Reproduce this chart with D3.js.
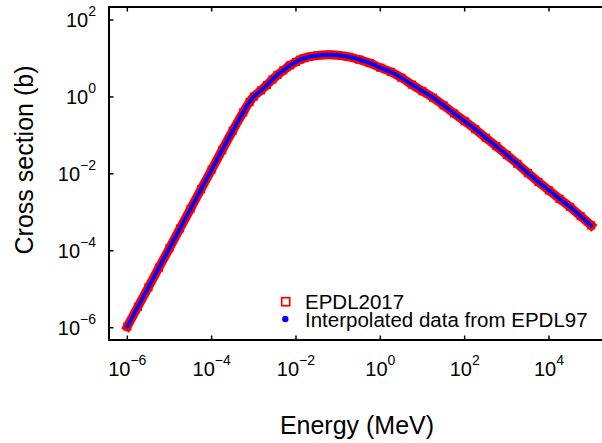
<!DOCTYPE html>
<html>
<head>
<meta charset="utf-8">
<script src="https://cdn.jsdelivr.net/npm/d3@7"></script>
<style>
  html, body { margin: 0; padding: 0; background: #fff; }
  svg { display: block; }
  text { font-family: "Liberation Sans", Arial, Helvetica, sans-serif; fill: #000; }
</style>
</head>
<body>
<svg id="chart" width="602" height="443"></svg>
<script>
// ---- data ----
const energy2017 = [1e-6, 1.78e-6, 3.16e-6, 5.62e-6, 1e-5, 1.78e-5, 3.16e-5, 5.62e-5, 1e-4, 1.78e-4,
  3.16e-4, 5.62e-4, 7.94e-4, 1e-3, 1.48e-3, 2.04e-3, 2.75e-3, 3.63e-3, 5.01e-3, 7.24e-3,
  1e-2, 1.26e-2, 1.58e-2, 2e-2, 2.51e-2, 3.16e-2, 3.8e-2, 4.57e-2, 5.5e-2, 6.6e-2,
  7.94e-2, 9.55e-2, 0.126, 0.178, 0.316, 0.562, 1, 1.78, 3.16, 5.62,
  10, 17.8, 31.6, 56.2, 100, 178, 316, 562, 1000, 1780,
  3160, 5620, 1e4, 1.78e4, 3.16e4, 5.62e4, 1e5];
const sigma2017 = [1.07e-6, 3.47e-6, 1.12e-5, 3.63e-5, 1.17e-4, 3.80e-4, 1.23e-3, 3.98e-3, 1.29e-2, 4.17e-2,
  0.132, 0.398, 0.741, 1.02, 1.48, 2.04, 2.82, 3.72, 4.90, 6.61,
  8.13, 9.33, 10.2, 11.0, 11.5, 11.9, 12.2, 12.3, 12.4, 12.4,
  12.3, 12.2, 11.7, 11.0, 9.33, 7.59, 5.75, 4.47, 3.16, 2.09,
  1.41, 0.955, 0.603, 0.372, 0.234, 0.145, 0.0871, 0.0525, 0.0309, 0.0182,
  0.0105, 6.17e-3, 3.72e-3, 2.24e-3, 1.38e-3, 7.94e-4, 4.57e-4];
const energy97 = energy2017.slice();
const sigma97 = [1.07e-6, 3.47e-6, 1.12e-5, 3.63e-5, 1.17e-4, 3.80e-4, 1.23e-3, 3.98e-3, 1.29e-2, 4.17e-2,
  0.132, 0.398, 0.741, 1.02, 1.48, 2.04, 2.82, 3.72, 4.90, 6.61,
  8.13, 9.33, 10.2, 11.0, 11.5, 11.9, 12.2, 12.3, 12.4, 12.4,
  12.3, 12.2, 11.7, 11.0, 9.33, 7.59, 5.75, 4.47, 3.16, 2.09,
  1.41, 0.955, 0.603, 0.372, 0.234, 0.145, 0.0871, 0.0525, 0.0309, 0.0182,
  0.0105, 6.17e-3, 3.72e-3, 2.24e-3, 1.38e-3, 7.94e-4, 4.57e-4];
const xTicks = [1e-6, 1e-4, 1e-2, 1, 1e2, 1e4];
const xTickExp = ["\u22126", "\u22124", "\u22122", "0", "2", "4"];
const yTicks = [1e-6, 1e-4, 1e-2, 1, 1e2];
const yTickExp = ["\u22126", "\u22124", "\u22122", "0", "2"];
const seriesNames = ["EPDL2017", "Interpolated data from EPDL97"];
const xTitle = "Energy (MeV)";
const yTitle = "Cross section (b)";

// ---- layout ----
const box = { left: 109, right: 612, top: 7, bottom: 340 };
const svg = d3.select("#chart");
const x = d3.scaleLog().domain([1e-6, 1e4]).range([127.3, 549]);
const y = d3.scaleLog().domain([1e-6, 1e2]).range([327.7, 20]);

const d2017 = energy2017.map((e, i) => ({ e, s: sigma2017[i] }));
const d97 = energy97.map((e, i) => ({ e, s: sigma97[i] }));

const plot = svg.append("g");
plot.append("clipPath").attr("id", "clip").append("rect")
  .attr("x", box.left).attr("y", box.top).attr("width", box.right - box.left).attr("height", box.bottom - box.top);
const pg = plot.append("g").attr("clip-path", "url(#clip)");

const line = d3.line().x(d => x(d.e)).y(d => y(d.s)).curve(d3.curveMonotoneX);

// EPDL2017: dense square markers (band + squares)
pg.append("path").datum(d2017).attr("d", line)
  .attr("fill", "none").attr("stroke", "#ff0000").attr("stroke-width", 9).attr("stroke-linecap", "square");
const sq = 7;
pg.selectAll("rect.m17").data(d2017).join("rect").attr("class", "m17")
  .attr("x", d => x(d.e) - sq / 2).attr("y", d => y(d.s) - sq / 2)
  .attr("width", sq).attr("height", sq)
  .attr("fill", "none").attr("stroke", "#ff0000").attr("stroke-width", 1.2);

// EPDL97 interpolated: blue dots
pg.append("path").datum(d97).attr("d", line)
  .attr("fill", "none").attr("stroke", "#0000ff").attr("stroke-width", 3.8).attr("stroke-linecap", "round");
pg.selectAll("circle.m97").data(d97).join("circle").attr("class", "m97")
  .attr("cx", d => x(d.e)).attr("cy", d => y(d.s)).attr("r", 2).attr("fill", "#0000ff");

// ---- frame ----
const frame = svg.append("g").attr("stroke", "#000").attr("stroke-width", 2).attr("fill", "none");
frame.append("path").attr("d", `M${box.right},${box.top}H${box.left}V${box.bottom}H${box.right}`);

// ticks (inward)
const tickLen = 4.5;
const tg = svg.append("g").attr("stroke", "#000").attr("stroke-width", 1.5);
xTicks.forEach(t => {
  tg.append("line").attr("x1", x(t)).attr("x2", x(t)).attr("y1", box.bottom).attr("y2", box.bottom - tickLen);
  tg.append("line").attr("x1", x(t)).attr("x2", x(t)).attr("y1", box.top).attr("y2", box.top + tickLen);
});
yTicks.forEach(t => {
  tg.append("line").attr("x1", box.left).attr("x2", box.left + tickLen).attr("y1", y(t)).attr("y2", y(t));
});

// tick labels
const fs = 20, fsSup = 14;
xTicks.forEach((t, i) => {
  const tx = svg.append("text").attr("x", x(t)).attr("y", 376).attr("text-anchor", "middle")
    .attr("font-size", fs);
  tx.append("tspan").text("10");
  tx.append("tspan").attr("font-size", fsSup).attr("dy", -11).text(xTickExp[i]);
});
yTicks.forEach((t, i) => {
  const tx = svg.append("text").attr("x", 96).attr("y", y(t) + 7).attr("text-anchor", "end")
    .attr("font-size", fs);
  tx.append("tspan").text("10");
  tx.append("tspan").attr("font-size", fsSup).attr("dy", -11).text(yTickExp[i]);
});

// axis titles
svg.append("text").attr("x", 357).attr("y", 434).attr("text-anchor", "middle")
  .attr("font-size", 25).text(xTitle);
svg.append("text").attr("transform", "translate(33,160) rotate(-90)").attr("text-anchor", "middle")
  .attr("font-size", 25).text(yTitle);

// legend
const lg = svg.append("g");
lg.append("rect").attr("x", 285.7 - 4).attr("y", 301.7 - 4).attr("width", 8).attr("height", 8)
  .attr("fill", "none").attr("stroke", "#ff0000").attr("stroke-width", 1.7);
lg.append("circle").attr("cx", 285.3).attr("cy", 319).attr("r", 3.2).attr("fill", "#0000ff");
lg.append("text").attr("x", 305).attr("y", 308.5).attr("font-size", 20.5).text(seriesNames[0]);
lg.append("text").attr("x", 305).attr("y", 326.8).attr("font-size", 20.5).text(seriesNames[1]);
</script>
</body>
</html>
